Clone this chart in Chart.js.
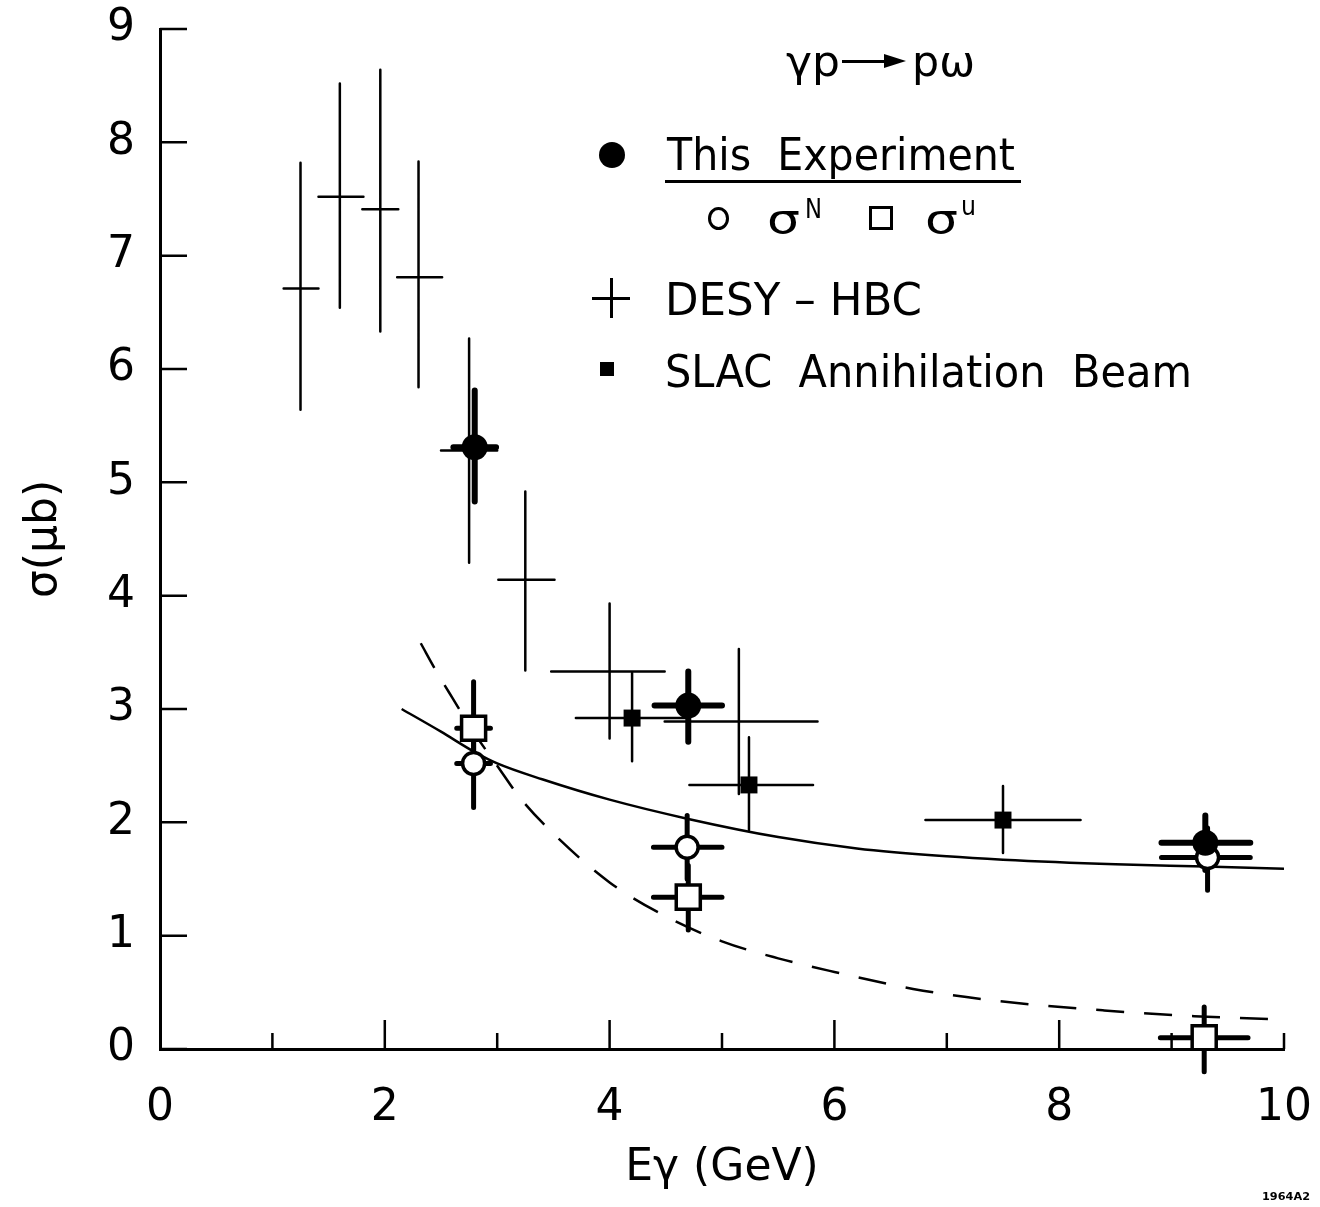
<!DOCTYPE html>
<html>
<head>
<meta charset="utf-8">
<script src="https://cdn.jsdelivr.net/npm/chart.js@4.4.1/dist/chart.umd.min.js"></script>
<style>
  html, body { margin:0; padding:0; background:#fff; }
  #wrap { position:relative; width:1320px; height:1207px; overflow:hidden; }
  #overlay { position:absolute; left:0; top:0; width:1320px; height:1207px; pointer-events:none; }
  .t { position:absolute; white-space:pre; font-family:'DejaVu Sans', sans-serif; color:#000; line-height:1; transform-origin:0 0; }
</style>
</head>
<body>
<div id="wrap">
  <canvas id="c" width="1320" height="1207"></canvas>
  <div id="overlay"></div>
</div>
<script>
// ---------- Axis ticks ----------
const xTickValues = [0, 2, 4, 6, 8, 10];
const xMinorValues = [1, 2, 3, 4, 5, 6, 7, 8, 9, 10];
const yTickValues = [0, 1, 2, 3, 4, 5, 6, 7, 8, 9];

// ---------- DESY-HBC (thin crosses) ----------
const desyX   = [1.25, 1.60, 1.96, 2.30, 2.75, 3.25, 4.00, 5.15];
const desyY   = [6.71, 7.52, 7.41, 6.81, 5.28, 4.14, 3.33, 2.89];
const desyYlo = [5.64, 6.54, 6.33, 5.84, 4.29, 3.34, 2.74, 2.25];
const desyYhi = [7.82, 8.52, 8.64, 7.83, 6.27, 4.92, 3.93, 3.53];
const desyXlo = [1.10, 1.41, 1.80, 2.11, 2.50, 3.01, 3.48, 4.49];
const desyXhi = [1.41, 1.81, 2.12, 2.51, 3.00, 3.51, 4.49, 5.85];

// ---------- SLAC Annihilation Beam (filled squares) ----------
const slacX   = [4.20, 5.24, 7.50];
const slacY   = [2.92, 2.33, 2.02];
const slacYlo = [2.54, 1.93, 1.73];
const slacYhi = [3.32, 2.75, 2.32];
const slacXlo = [3.70, 4.71, 6.81];
const slacXhi = [4.70, 5.81, 8.19];

// ---------- This Experiment (filled circles) ----------
const expX   = [2.80, 4.70, 9.30];
const expY   = [5.31, 3.03, 1.82];
const expYlo = [4.83, 2.71, 1.58];
const expYhi = [5.81, 3.33, 2.06];
const expXlo = [2.61, 4.40, 8.91];
const expXhi = [2.99, 5.00, 9.70];

// ---------- sigma^N (open circles) ----------
const sigNX   = [2.79, 4.69, 9.32];
const sigNY   = [2.52, 1.78, 1.69];
const sigNYlo = [2.13, 1.50, 1.40];
const sigNYhi = [2.80, 2.06, 1.95];
const sigNXlo = [2.64, 4.39, 8.91];
const sigNXhi = [2.94, 5.00, 9.70];

// ---------- sigma^u (open squares) ----------
const sigUX   = [2.79, 4.70, 9.29];
const sigUY   = [2.83, 1.34, 0.10];
const sigUYlo = [2.55, 1.05, -0.20];
const sigUYhi = [3.24, 1.62, 0.37];
const sigUXlo = [2.64, 4.39, 8.90];
const sigUXhi = [2.94, 5.00, 9.68];

// ---------- Curves ----------
const solidX = [2.15, 2.5, 2.8, 3.0, 3.4, 4.0, 4.7, 5.5, 6.2, 7.0, 7.5, 8.5, 9.3, 10.0];
const solidY = [3.00, 2.80, 2.62, 2.52, 2.38, 2.20, 2.03, 1.87, 1.77, 1.70, 1.67, 1.63, 1.61, 1.59];
const dashX = [2.32, 2.46, 2.6, 2.8, 3.0, 3.2, 3.5, 4.0, 4.5, 5.0, 5.5, 6.0, 6.7, 7.4, 8.4, 9.2, 10.0];
const dashY = [3.58, 3.33, 3.10, 2.78, 2.50, 2.22, 1.90, 1.47, 1.17, 0.95, 0.80, 0.68, 0.53, 0.43, 0.34, 0.29, 0.26];

// ---------- helpers ----------
function pts(xs, ys) { return xs.map((x, i) => ({ x: x, y: ys[i] })); }
function bars(xs, ys, xlo, xhi, ylo, yhi) {
  const out = [];
  xs.forEach((x, i) => {
    out.push({ x: xlo[i], y: ys[i] }, { x: xhi[i], y: ys[i] }, { x: x, y: null });
    out.push({ x: x, y: ylo[i] }, { x: x, y: yhi[i] }, { x: x, y: null });
  });
  return out;
}
function barSet(data, w, order) {
  return { type: 'scatter', data: data, showLine: true, spanGaps: false, borderColor: '#000',
    borderWidth: w, pointRadius: 0, borderCapStyle: 'round', order: order, clip: false, tension: 0 };
}

const innerTicks = {
  id: 'innerTicks',
  afterDraw(chart) {
    const { ctx, scales: { x, y }, chartArea } = chart;
    ctx.save();
    ctx.strokeStyle = '#000';
    ctx.lineWidth = 2.5;
    ctx.beginPath();
    xMinorValues.forEach(v => {
      const px = x.getPixelForValue(v);
      const len = (v % 2 === 0 && v !== 10) ? 29 : 16;
      ctx.moveTo(px, chartArea.bottom);
      ctx.lineTo(px, chartArea.bottom - len);
    });
    yTickValues.forEach(v => {
      const py = y.getPixelForValue(v);
      ctx.moveTo(chartArea.left, py);
      ctx.lineTo(chartArea.left + 27, py);
    });
    ctx.stroke();
    ctx.restore();
  }
};

const FONT = "'DejaVu Sans', sans-serif";

new Chart(document.getElementById('c'), {
  type: 'scatter',
  data: {
    datasets: [
      { data: pts(expX, expY), pointStyle: 'circle', pointRadius: 13, backgroundColor: '#000', borderWidth: 0, order: 0 },
      { data: pts(sigUX, sigUY), pointStyle: 'rect', pointRadius: 17, backgroundColor: '#fff', borderColor: '#000', borderWidth: 3.5, order: 1 },
      { data: pts(sigNX, sigNY), pointStyle: 'circle', pointRadius: 11, backgroundColor: '#fff', borderColor: '#000', borderWidth: 3.5, order: 2 },
      { data: pts(slacX, slacY), pointStyle: 'rect', pointRadius: 12, backgroundColor: '#000', borderWidth: 0, order: 3 },
      barSet(bars(expX, expY, expXlo, expXhi, expYlo, expYhi), 6, 4),
      barSet(bars(sigUX, sigUY, sigUXlo, sigUXhi, sigUYlo, sigUYhi), 5, 5),
      barSet(bars(sigNX, sigNY, sigNXlo, sigNXhi, sigNYlo, sigNYhi), 5, 6),
      barSet(bars(slacX, slacY, slacXlo, slacXhi, slacYlo, slacYhi), 2.5, 7),
      barSet(bars(desyX, desyY, desyXlo, desyXhi, desyYlo, desyYhi), 2.5, 8),
      { type: 'scatter', data: pts(solidX, solidY), showLine: true, borderColor: '#000', borderWidth: 2.5,
        pointRadius: 0, cubicInterpolationMode: 'monotone', order: 9 },
      { type: 'scatter', data: pts(dashX, dashY), showLine: true, borderColor: '#000', borderWidth: 2.5,
        borderDash: [28, 20], pointRadius: 0, cubicInterpolationMode: 'monotone', order: 10 }
    ]
  },
  options: {
    responsive: false,
    devicePixelRatio: 1,
    animation: false,
    events: [],
    layout: { padding: { left: 0, right: 36, top: 29, bottom: 0 } },
    plugins: { legend: { display: false }, tooltip: { enabled: false } },
    scales: {
      x: {
        type: 'linear', min: 0, max: 10,
        afterFit: s => { s.height = 158; s.paddingLeft = 0; s.paddingRight = 0; },
        afterBuildTicks: s => { s.ticks = xTickValues.map(v => ({ value: v })); },
        grid: { display: true, drawOnChartArea: false, drawTicks: false },
        border: { display: true, color: '#000', width: 3 },
        ticks: { color: '#000', font: { family: FONT, size: 44 }, padding: 33, maxRotation: 0, autoSkip: false },
        title: { display: true, text: 'Eγ (GeV)', color: '#000', font: { family: FONT, size: 44 }, padding: { top: 0, bottom: 12 } }
      },
      y: {
        type: 'linear', min: 0, max: 9,
        afterFit: s => { s.width = 160; s.paddingTop = 0; s.paddingBottom = 0; },
        afterBuildTicks: s => { s.ticks = yTickValues.map(v => ({ value: v })); },
        grid: { display: true, drawOnChartArea: false, drawTicks: false },
        border: { display: true, color: '#000', width: 3 },
        ticks: { color: '#000', font: { family: FONT, size: 44 }, padding: 25, autoSkip: false },
        title: { display: true, text: 'σ(μb)', color: '#000', font: { family: FONT, size: 44 }, padding: { top: 18, bottom: 0 } }
      }
    }
  },
  plugins: [innerTicks]
});

// ---------- Legend / annotation overlay (real DOM text) ----------
const overlay = document.getElementById('overlay');
function place(html, x, baseline, size, width, extra) {
  const d = document.createElement('div');
  d.className = 't';
  d.style.left = x + 'px';
  d.style.fontSize = size + 'px';
  if (extra) d.style.cssText += extra;
  const inner = document.createElement('span');
  inner.innerHTML = html;
  d.appendChild(inner);
  const m = document.createElement('span');
  m.style.cssText = 'display:inline-block;width:0;height:0;';
  d.appendChild(m);
  overlay.appendChild(d);
  d.style.top = (baseline - m.offsetTop) + 'px';
  if (width) {
    const w = inner.getBoundingClientRect().width;
    d.style.transform = 'scaleX(' + (width / w) + ')';
  }
  return d;
}
function box(x, y, w, h, css) {
  const d = document.createElement('div');
  d.style.cssText = 'position:absolute;left:' + x + 'px;top:' + y + 'px;width:' + w + 'px;height:' + h + 'px;' + (css || '');
  overlay.appendChild(d);
  return d;
}

// reaction label
place('γp', 786, 76, 42, 54);
box(842, 60, 44, 3, 'background:#000;');
box(884, 54, 0, 0, 'border-left:22px solid #000;border-top:7px solid transparent;border-bottom:7px solid transparent;');
place('pω', 912, 76, 42, 63);

// This Experiment
box(599, 142, 26, 26, 'background:#000;border-radius:50%;');
place('This  Experiment', 667, 170, 44, 348);
box(665, 180, 356, 3, 'background:#000;');

// sigma^N, sigma^u
box(708, 207, 15, 17, 'border:3px solid #000;border-radius:50%;');
place('σ', 767, 233, 40, 33);
place('N', 805, 218, 26, 17);
box(869, 206, 18, 18, 'border:3.5px solid #000;');
place('σ', 925, 233, 40, 33);
place('u', 961, 215, 26, 15);

// DESY - HBC
box(592, 297, 38, 2.5, 'background:#000;');
box(610, 278, 2.5, 40, 'background:#000;');
place('DESY – HBC', 665, 315, 44, 257);

// SLAC
box(600, 362, 14, 14, 'background:#000;');
place('SLAC  Annihilation  Beam', 665, 387, 44, 527);

// figure id
place('1964A2', 1262, 1200, 11, 48, 'font-weight:bold;');
</script>
</body>
</html>
